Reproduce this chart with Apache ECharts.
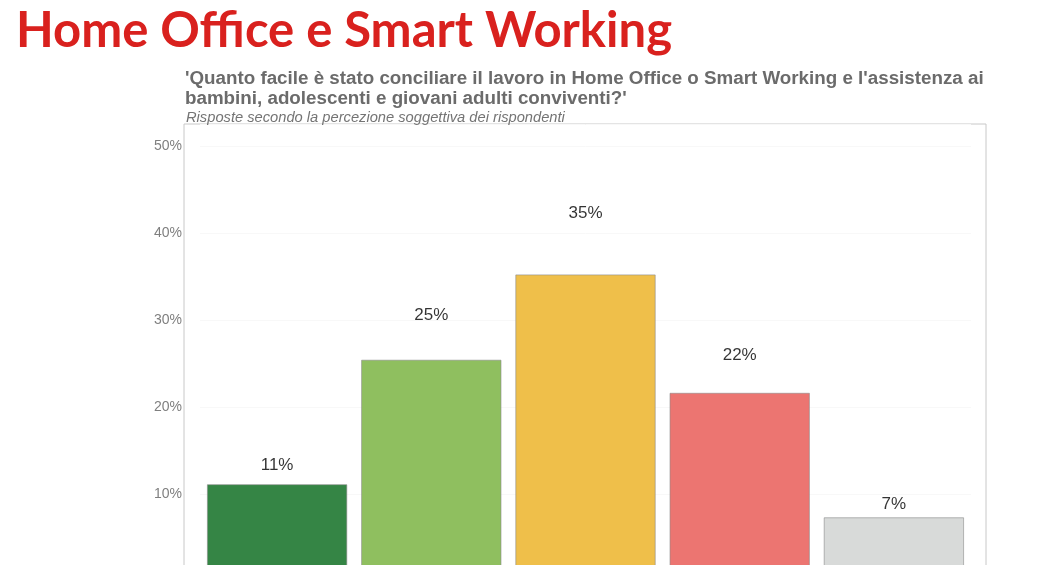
<!DOCTYPE html>
<html><head><meta charset="utf-8">
<script src="https://cdn.jsdelivr.net/npm/echarts@6/dist/echarts.min.js"></script>
<style>html,body{margin:0;padding:0;background:#fff}#c{width:1057px;height:565px}</style>
</head><body><div id="c"></div>
<script>
const categories = ['Molto facile', 'Facile', 'Né facile né difficile', 'Difficile', 'Molto difficile'];
const values = [11.1, 25.4, 35.2, 21.6, 7.3];
const colors = ['#358545', '#8fbf5f', '#efbf4a', '#ec7571', '#d8dad9'];
const yTicks = [0, 10, 20, 30, 40, 50];

const chart = echarts.init(document.getElementById('c'), null, {renderer: 'canvas'});
const labelPos = values.map(v => v * 1.2);
chart.setOption({
  animation: false,
  backgroundColor: '#fff',
  title: [
    {text: 'Home Office e Smart Working', left: 11, top: 2,
     textStyle: {fontFamily: 'Lato', fontWeight: 'bold', fontSize: 49, color: '#d9211e'}},
    {text: "'Quanto facile è stato conciliare il lavoro in Home Office o Smart Working e l'assistenza ai\nbambini, adolescenti e giovani adulti conviventi?'", left: 180, top: 64,
     textStyle: {fontFamily: 'Liberation Sans', fontWeight: 'bold', fontSize: 18.8, lineHeight: 20, color: '#6b6b6b'}},
    {text: 'Risposte secondo la percezione soggettiva dei rispondenti', left: 181, top: 105,
     textStyle: {fontFamily: 'Liberation Sans', fontStyle: 'italic', fontWeight: 'normal', fontSize: 14.7, color: '#747474'}}
  ],
  grid: [
    {left: 184, width: 802, top: 124, height: 457, show: true, borderColor: '#c8c8c8', borderWidth: 1,
     backgroundColor: 'transparent', containLabel: false, outerBoundsMode: 'none'},
    {left: 200, width: 771, top: 124, height: 457, show: false, containLabel: false, outerBoundsMode: 'none'}
  ],
  xAxis: [
    {gridIndex: 0, type: 'value', show: false, min: 0, max: 1},
    {gridIndex: 1, type: 'category', data: categories, axisLine: {show: false}, axisTick: {show: false},
     axisLabel: {show: false}, splitLine: {show: false}}
  ],
  yAxis: [
    {gridIndex: 0, type: 'value', show: false, min: 0, max: 1},
    {gridIndex: 1, type: 'value', min: 0, max: 52.5, interval: 10,
     axisLine: {show: false}, axisTick: {show: false},
     axisLabel: {showMaxLabel: false, margin: 18, color: '#7f7f7f', fontFamily: 'Liberation Sans', fontSize: 14,
       formatter: v => (yTicks.indexOf(v) >= 0 ? v + '%' : '')},
     splitLine: {show: true, lineStyle: {color: '#f8f8f8', width: 1}}}
  ],
  series: [
    {type: 'bar', xAxisIndex: 1, yAxisIndex: 1, barWidth: 140,
     data: values.map((v, i) => ({value: v, itemStyle: {color: colors[i]}})),
     itemStyle: {borderColor: '#8a8a8a', borderWidth: 0.6}},
    {type: 'scatter', xAxisIndex: 1, yAxisIndex: 1, symbolSize: 0, silent: true,
     data: labelPos.map((p, i) => [i, p]),
     label: {show: true, position: 'inside', color: '#000000', fontFamily: 'Liberation Sans', fontSize: 17,
       formatter: p => Math.round(values[p.dataIndex]) + '%'}}
  ]
});
</script></body></html>
